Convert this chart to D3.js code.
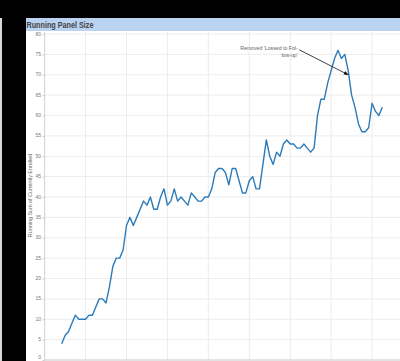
<!DOCTYPE html>
<html>
<head>
<meta charset="utf-8">
<script src="https://cdn.jsdelivr.net/npm/d3@7/dist/d3.min.js"></script>
<style>
  html, body { margin: 0; padding: 0; background: #000; }
  svg { display: block; }
</style>
</head>
<body>
<svg id="chart" width="400" height="361"></svg>
<script>
// ---- data ----
const chartTitle = "Running Panel Size";
const yAxisTitle = "Running Sum of Currently Enrolled";
const yTickValues = [0, 5, 10, 15, 20, 25, 30, 35, 40, 45, 50, 55, 60, 65, 70, 75, 80];
const weekIndex = d3.range(95);
const runningSum = [
  4, 6, 7, 9, 11, 10, 10, 10, 11, 11,
  13, 15, 15, 14, 18, 23, 25, 25, 27, 33,
  35, 33, 35, 37, 39, 38, 40, 37, 37, 40,
  42, 38, 39, 42, 39, 40, 39, 38, 41, 40,
  39, 39, 40, 40, 42, 46, 47, 47, 46, 43,
  47, 47, 44, 41, 41, 44, 45, 42, 42, 48,
  54, 50, 48, 51, 50, 53, 54, 53, 53, 52,
  52, 53, 52, 51, 52, 60, 64, 64, 68, 71,
  74, 76, 74, 75, 71, 65, 62, 58, 56, 56,
  57, 63, 61, 60, 62
];
const xGridIndex = [7, 19, 31, 43, 55, 67, 79, 91];
const annotationText = ["Removed 'Lossed to Fol-", "low-up'"];
const annotationTarget = { index: 84, value: 70 };

// ---- layout ----
const svg = d3.select("#chart");
const W = 400, H = 361;

const x = d3.scaleLinear().domain([0, weekIndex.length - 1]).range([61.7, 382.3]);
const y = d3.scaleLinear().domain([0, 80]).range([360, 34]);
const plotLeft = x(-5), plotRight = W, plotTop = 32, plotBottom = y(0);

// background
svg.append("rect").attr("x", 0).attr("y", 0).attr("width", W).attr("height", H).attr("fill", "#000");
svg.append("rect").attr("x", 0).attr("y", 18).attr("width", 2).attr("height", H - 18).attr("fill", "#d8d8d8");
svg.append("rect").attr("x", 26).attr("y", 18).attr("width", W - 26).attr("height", H - 18).attr("fill", "#fff");
svg.append("rect").attr("x", 26).attr("y", 18).attr("width", W - 26).attr("height", 13).attr("fill", "#b9d3f1");
svg.append("text")
  .attr("x", 26.5).attr("y", 27.6)
  .attr("font-family", "Liberation Sans, Arial, sans-serif")
  .attr("font-size", 9).attr("font-weight", "bold")
  .attr("fill", "#444")
  .attr("textLength", 67).attr("lengthAdjust", "spacingAndGlyphs")
  .text(chartTitle);

// gridlines
const grid = svg.append("g");
grid.selectAll("line.h").data(yTickValues).enter().append("line")
  .attr("x1", plotLeft).attr("x2", plotRight)
  .attr("y1", d => y(d)).attr("y2", d => y(d))
  .attr("stroke", "#ececec").attr("stroke-width", 1);
grid.selectAll("line.v").data(xGridIndex).enter().append("line")
  .attr("x1", d => x(d)).attr("x2", d => x(d))
  .attr("y1", plotTop).attr("y2", plotBottom)
  .attr("stroke", "#ececec").attr("stroke-width", 1);

// y axis
const yAxis = d3.axisLeft(y).tickValues(yTickValues).tickSize(2).tickPadding(1.5);
const gy = svg.append("g").attr("transform", `translate(${plotLeft},0)`).call(yAxis);
gy.select(".domain").attr("stroke", "#d0d0d0").attr("d", `M0,${plotTop}V${plotBottom}`);
gy.selectAll(".tick line").attr("stroke", "#c8c8c8");
gy.selectAll(".tick text")
  .attr("font-family", "Liberation Sans, Arial, sans-serif")
  .attr("font-size", 5).attr("fill", "#777")
  .attr("dy", d => d === 0 ? "-0.35em" : "0.2em");

// x axis baseline
svg.append("line")
  .attr("x1", plotLeft).attr("x2", plotRight)
  .attr("y1", plotBottom).attr("y2", plotBottom)
  .attr("stroke", "#d0d0d0").attr("stroke-width", 1);

// y axis title
svg.append("text")
  .attr("transform", `translate(31.5,195.5) rotate(-90)`)
  .attr("text-anchor", "middle")
  .attr("font-family", "Liberation Sans, Arial, sans-serif")
  .attr("font-size", 5.4).attr("fill", "#666")
  .text(yAxisTitle);

// line
const line = d3.line().x((d, i) => x(weekIndex[i])).y(d => y(d));
svg.append("path")
  .datum(runningSum)
  .attr("d", line)
  .attr("fill", "none")
  .attr("stroke", "#2b7bbb")
  .attr("stroke-width", 1.4)
  .attr("stroke-linejoin", "round");

// annotation
const defs = svg.append("defs");
defs.append("marker")
  .attr("id", "arrow").attr("viewBox", "0 0 10 10")
  .attr("refX", 9).attr("refY", 5)
  .attr("markerWidth", 6).attr("markerHeight", 6)
  .attr("orient", "auto")
  .append("path").attr("d", "M0,1L10,5L0,9Z").attr("fill", "#111");

const tx = x(annotationTarget.index), ty = y(annotationTarget.value);
svg.append("line")
  .attr("x1", tx - 49).attr("y1", ty - 25)
  .attr("x2", tx).attr("y2", ty)
  .attr("stroke", "#111").attr("stroke-width", 0.8)
  .attr("marker-end", "url(#arrow)");
svg.append("g").selectAll("text").data(annotationText).enter().append("text")
  .attr("x", tx - 50.5).attr("y", (d, i) => ty - 24.5 + i * 6.3)
  .attr("text-anchor", "end")
  .attr("font-family", "Liberation Sans, Arial, sans-serif")
  .attr("font-size", 5.2).attr("fill", "#666")
  .text(d => d);
</script>
</body>
</html>
